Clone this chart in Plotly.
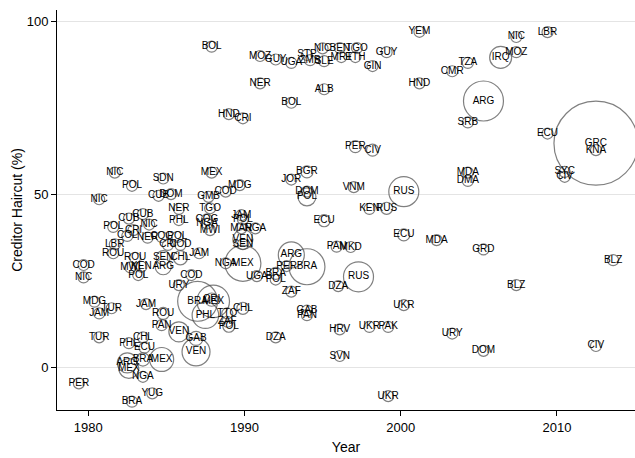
import plotly.graph_objects as go

labels = ["BOL","MOZ","GUY","UGA","STP","ZMB","SLE","NIC","BEN","TGO","MRT","ETH","NER","ALB","BOL","HND","CRI",
          "YEM","GUY","GIN","TZA","CMR","HND","IRQ","ARG","SRB","NIC","LBR","MOZ","ECU","GRC","KNA","SYC","CIV",
          "NIC","POL","NIC","SDN","CUB","DOM","MEX","NER","GMB","TGO","CUB","CUB","NIC","PHL","COG","NGA","MWI",
          "POL","CRI","COL","NER","COG","POL","CRI","COD","LBR","ROU","ROU","CHL","JAM","COD","NIC","MWI","POL",
          "MDG","TUR","JAM","JAM","TUR","CHL","ECU","PHL","MEX","BRA","ARG","MEX","NGA","PER","YUG","BRA","VEN",
          "GAB","VEN","ROU","PAN","NGA","MEX","UGA","BRA","POL","PER","BRA","ARG","ZAF","DZA","RUS","CHL","TTO",
          "ZAF","POL","GAB","PAN","DZA","HRV","SVN","UKR","UKR","PAK","URY","DOM","UKR","BLZ","CIV","BLZ","PER",
          "CIV","VNM","RUS","MDA","DMA","KEN","RUS","ECU","MDA","GRD","PAN","MKD","MDG","COD","JAM","POL","MAR",
          "NGA","VEN","SEN","JOR","BGR","DOM","POL","ECU","SEN","ARG","KEN","COD","URY","BRA","MEX","PHL","CRI"]
year = [1987.9,1991.0,1992.0,1993.0,1994.0,1994.2,1995.1,1995.0,1996.1,1997.2,1996.2,1997.1,1991.0,1995.1,1993.0,1989.0,1989.9,
        2001.2,1999.1,1998.2,2004.3,2003.3,2001.2,2006.4,2005.3,2004.3,2007.4,2009.4,2007.4,2009.4,2012.5,2012.5,2010.5,2010.5,
        1981.7,1982.8,1980.7,1984.8,1984.5,1985.3,1987.9,1985.8,1987.7,1987.8,1983.5,1982.6,1983.9,1985.8,1987.6,1987.6,1987.8,
        1981.6,1982.9,1982.5,1983.8,1984.7,1985.7,1985.1,1985.9,1981.7,1981.6,1983.0,1985.9,1987.1,1979.7,1979.7,1982.7,1983.2,
        1980.4,1981.5,1980.7,1983.7,1980.7,1983.5,1983.6,1982.6,1984.7,1983.5,1982.5,1982.6,1983.5,1979.4,1984.1,1982.8,1986.9,
        1986.9,1985.8,1984.8,1984.7,1988.8,1989.9,1990.8,1992.0,1992.0,1992.7,1994.0,1993.0,1993.0,1996.0,1997.3,1989.9,1988.9,
        1988.9,1989.0,1994.0,1994.0,1992.0,1996.1,1996.1,2000.2,1998.0,1999.2,2003.3,2005.3,1999.2,2007.4,2012.5,2013.6,1997.1,
        1998.2,1997.0,2000.2,2004.3,2004.3,1998.0,1999.1,2000.2,2002.3,2005.3,1995.9,1996.8,1989.7,1988.8,1989.8,1989.9,1989.8,
        1990.7,1989.9,1989.9,1993.0,1994.0,1994.0,1994.0,1995.1,1984.8,1984.8,1983.4,1986.6,1985.8,1987.0,1988.0,1987.5,1987.9]
haircut = [92.6,89.9,88.9,87.9,90.2,88.7,88.4,92.1,92.2,92.2,89.6,89.6,82.0,80.3,76.4,73.1,71.9,
           96.9,91.0,87.0,87.9,85.5,82.0,89.5,76.9,70.7,95.4,96.8,91.0,67.5,64.7,62.7,56.4,55.0,
           56.2,52.4,48.5,54.5,49.5,50.0,56.2,45.7,49.2,45.9,44.2,42.9,41.2,42.5,42.7,41.5,39.6,
           40.5,39.6,37.9,37.4,37.6,37.6,35.3,35.3,35.5,32.9,31.6,31.6,32.9,29.5,25.9,28.8,26.6,
           18.9,17.0,15.5,18.2,8.6,8.6,5.6,6.9,2.2,2.2,1.2,-0.4,-2.8,-4.7,-7.6,-10.0,4.4,
           8.3,10.2,15.5,12.1,30.0,30.0,26.3,27.1,25.3,29.2,29.0,32.4,21.8,23.4,26.1,17.0,15.5,
           13.1,11.8,16.3,15.0,8.6,10.9,3.2,17.9,11.6,11.6,9.7,4.7,-8.4,23.7,6.1,30.9,63.7,
           62.7,52.0,50.7,56.2,53.8,45.7,45.9,38.2,36.7,34.0,34.8,34.7,52.6,50.7,43.9,42.7,40.1,
           40.1,36.9,35.5,54.2,56.4,50.7,49.2,42.3,31.6,29.0,29.0,26.6,23.7,19.0,19.0,15.0,19.5]
debt = [0.5,0.5,0.5,0.5,0.3,0.5,0.5,0.5,0.3,0.3,0.5,0.5,0.3,0.5,0.5,0.3,0.5,
        0.5,0.5,0.3,0.3,0.5,0.3,13.7,45.3,1.0,0.5,0.3,0.5,2.8,200,0.3,0.3,2.8,
        0.5,0.5,0.5,0.5,0.5,0.5,2.5,0.3,0.3,0.3,0.5,0.5,0.5,2.8,0.8,0.8,0.3,
        0.5,0.5,0.5,0.3,0.5,2.0,0.5,0.5,0.3,0.5,2.8,5.6,0.5,0.5,0.5,0.3,0.5,
        0.3,1.8,0.5,0.5,0.5,2.0,1.0,1.0,16.3,5.0,11.3,11.3,0.5,0.5,0.5,2.8,22.2,
        5.6,11.3,4.1,0.5,0.5,36.7,0.3,4.1,0.5,0.5,36.7,19.2,2.8,2.0,25.5,4.1,0.5,
        0.5,4.1,0.5,0.5,0.5,0.5,0.5,0.5,0.5,0.5,2.8,0.5,0.5,0.5,2.0,0.5,4.1,
        4.1,0.5,25.5,0.3,0.3,0.3,4.1,4.1,0.3,0.3,2.8,0.3,0.3,0.5,0.5,2.8,0.5,
        2.8,11.3,0.5,0.5,4.1,0.5,9.2,4.1,5.6,7.3,0.5,0.5,0.5,45.0,30.0,20.0,5.0]

fig = go.Figure()
fig.add_trace(go.Scatter(
    x=year, y=haircut, text=labels, mode="markers+text", textposition="middle center",
    textfont=dict(family="Liberation Sans, Arial, sans-serif", size=10, color="black"),
    marker=dict(size=debt, sizemode="area", sizeref=2 * 200 / 84 ** 2, sizemin=5.5,
                color="rgba(0,0,0,0)", line=dict(color="#4a4a4a", width=1.2)),
    hoverinfo="skip", showlegend=False, cliponaxis=False))

fig.update_layout(
    width=635, height=458, margin=dict(l=57, r=0, t=10, b=48),
    plot_bgcolor="white", paper_bgcolor="white",
    font=dict(family="Liberation Sans, Arial, sans-serif", size=13, color="black"),
    xaxis=dict(range=[1978.0, 2015.0], tickvals=[1980, 1990, 2000, 2010], showgrid=False, zeroline=False,
               showline=True, linecolor="black", linewidth=1, ticks="outside", ticklen=5, tickcolor="black",
               title=dict(text="Year", font=dict(size=14), standoff=8)),
    yaxis=dict(range=[-12.4, 103.2], tickvals=[0, 50, 100], showgrid=True, gridcolor="#e4e4e4", gridwidth=1,
               zeroline=False, showline=True, linecolor="black", linewidth=1, ticks="outside", ticklen=5,
               tickcolor="black", title=dict(text="Creditor Haircut (%)", font=dict(size=14), standoff=0)),
)
fig.write_html("out.html")
